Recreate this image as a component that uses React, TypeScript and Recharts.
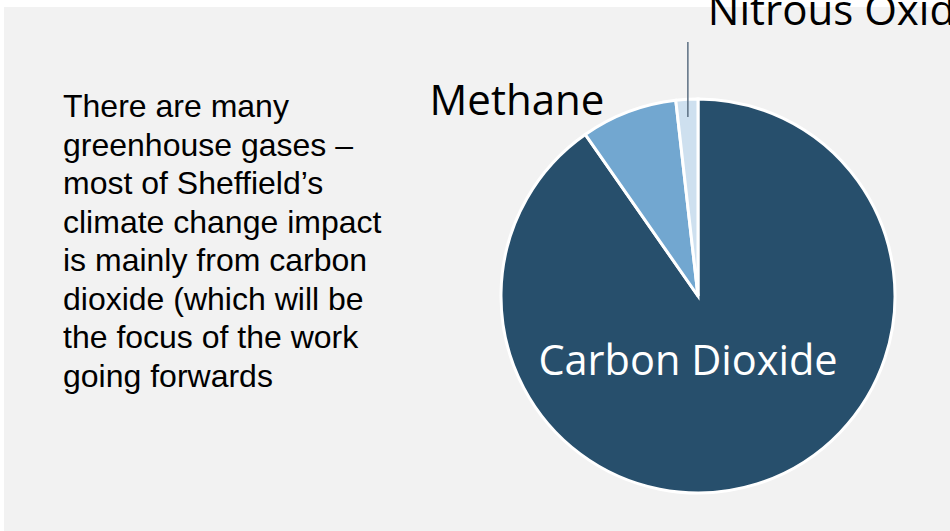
import React from 'react';
import { PieChart, Pie, Cell } from 'recharts';

const gases = ['Carbon Dioxide', 'Methane', 'Nitrous Oxide'];
const shares = [90.3, 7.9, 1.8];
const colors = ['#274f6c', '#72a7d0', '#cee0ef'];

const introLines = [
  'There are many',
  'greenhouse gases –',
  'most of Sheffield’s',
  'climate change impact',
  'is mainly from carbon',
  'dioxide (which will be',
  'the focus of the work',
  'going forwards',
];

const data = gases.map((name, i) => ({ name, value: shares[i] }));

const RADIAN = Math.PI / 180;
const labelFont = '"Open Sans", "Noto Sans", sans-serif';

const renderLabel = (props: any) => {
  const { cx, cy, midAngle, outerRadius, index, name } = props;
  const cos = Math.cos(-midAngle * RADIAN);
  const sin = Math.sin(-midAngle * RADIAN);
  if (index === 0) {
    return (
      <text x={cx - 10} y={cy + 79} fill="#ffffff" textAnchor="middle" fontSize={41.5} fontFamily={labelFont}>
        {name}
      </text>
    );
  }
  if (index === 1) {
    const x = cx + outerRadius * cos;
    const y = cy + outerRadius * sin;
    return (
      <text x={x - 24} y={y + 3} fill="#000000" textAnchor="end" fontSize={42} fontFamily={labelFont}>
        {name}
      </text>
    );
  }
  const x = cx + outerRadius * 0.91 * cos;
  const y = cy + outerRadius * 0.91 * sin;
  return (
    <g>
      <line x1={x} y1={y} x2={x} y2={cy - 254} stroke="#5b6f82" strokeWidth={1.5} />
      <text x={x + 20} y={cy - 271} fill="#000000" textAnchor="start" fontSize={42} fontFamily={labelFont}>
        {name}
      </text>
    </g>
  );
};

const App: React.FC = () => {
  return (
    <div>
      <div
        style={{
          position: 'absolute',
          left: 4,
          top: 7,
          width: 946,
          height: 524,
          background: '#f2f2f2',
        }}
      />
      <div
        style={{
          position: 'absolute',
          left: 63,
          top: 87,
          fontFamily: '"Liberation Sans", Arial, sans-serif',
          fontSize: 32,
          lineHeight: '38.5px',
          color: '#000000',
          whiteSpace: 'nowrap',
        }}
      >
        {introLines.map((line) => (
          <div key={line}>{line}</div>
        ))}
      </div>
      <div style={{ position: 'absolute', left: 0, top: 0 }}>
        <PieChart width={950} height={531}>
          <Pie
            data={data}
            dataKey="value"
            nameKey="name"
            cx={693}
            cy={291}
            outerRadius={197}
            startAngle={90}
            endAngle={-270}
            stroke="#ffffff"
            strokeWidth={3}
            label={renderLabel}
            labelLine={false}
            isAnimationActive={false}
          >
            {data.map((d, i) => (
              <Cell key={d.name} fill={colors[i]} />
            ))}
          </Pie>
        </PieChart>
      </div>
    </div>
  );
};

export default App;
